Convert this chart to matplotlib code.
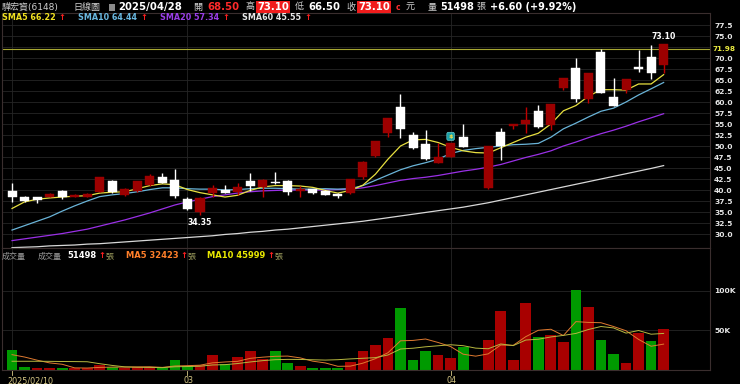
import numpy as np
import pandas as pd
import matplotlib
matplotlib.use("Agg")
import matplotlib.pyplot as plt
from matplotlib.patches import Rectangle

plt.rcParams['font.family'] = ['DejaVu Sans', 'Noto Sans CJK TC']

# =========================
# DATA
# =========================
days = pd.bdate_range("2025-02-10", "2025-04-28")
days = days.drop(pd.to_datetime(["2025-02-28", "2025-04-03", "2025-04-04"]))

nan = np.nan
opens = [39.8, 38.4, 38.3, 38.5, 39.8, 38.5, 38.5, 39.6, 42.1, 38.8,
         39.8, 41.1, 43.0, 42.3, 37.9, 35.1, 39.3, 40.0, 39.6, 42.1,
         40.75, 41.9, 42.1, 39.8, 40.2, 39.8, 39.0, 39.25, 42.9, 47.7,
         53.0, 58.9, 52.5, 50.4, 46.2, 47.6, 52.1, nan, 40.4, 53.25,
         54.6, 54.9, 57.95, 54.8, 63.1, 67.7, 60.7, 71.3, 61.2, 62.7,
         68.0, 70.3, 68.5]
highs = [41.5, 38.6, 38.4, 39.4, 40.0, 39.0, 39.3, 43.0, 42.2, 40.5,
         42.1, 43.6, 43.8, 44.7, 38.5, 38.5, 41.1, 41.1, 41.7, 43.9,
         42.4, 44.2, 42.2, 40.9, 40.3, 39.9, 39.3, 42.4, 46.5, 51.1,
         56.3, 61.75, 53.25, 53.6, 50.6, 50.6, 54.9, nan, 50.0, 54.0,
         55.0, 58.9, 59.3, 59.6, 65.5, 69.9, 66.5, 72.05, 65.4, 65.2,
         71.8, 72.95, 73.1]
lows = [37.2, 37.3, 37.1, 38.4, 37.9, 38.3, 38.4, 39.5, 39.25, 38.6,
        39.6, 41.0, 41.5, 38.1, 35.4, 34.35, 38.5, 39.3, 38.9, 39.8,
        38.5, 41.4, 38.9, 38.3, 39.2, 38.8, 38.2, 39.1, 42.4, 47.5,
        52.0, 51.75, 49.4, 46.8, 46.1, 47.5, 49.7, nan, 40.3, 46.8,
        53.9, 52.9, 54.2, 53.6, 62.7, 60.1, 59.7, 62.0, 59.2, 62.0,
        66.9, 65.2, 66.5]
closes = [38.5, 37.6, 37.7, 39.0, 38.3, 38.8, 39.2, 43.0, 39.6, 40.3,
          42.1, 43.2, 41.7, 38.6, 35.6, 38.2, 40.4, 39.4, 40.6, 40.9,
          42.3, 41.5, 39.6, 40.3, 39.3, 38.9, 38.6, 42.4, 46.4, 51.1,
          56.3, 53.8, 49.5, 47.0, 47.6, 50.6, 49.7, nan, 49.9, 50.1,
          54.9, 55.9, 54.25, 59.5, 65.5, 60.7, 66.5, 62.0, 59.2, 65.2,
          67.6, 66.5, 73.1]

sma5 = [35.8, 37.3, 37.9, 38.2, 38.4, 38.6, 38.7, 39.3, 39.5, 39.6,
        40.3, 41.0, 41.4, 41.2, 40.1, 39.4, 38.9, 38.4, 38.8, 39.9,
        40.7, 41.0, 41.0, 40.9, 40.6, 39.9, 39.3, 39.9, 41.1, 43.6,
        47.0, 50.0, 51.4, 51.5, 50.8, 49.7, 48.9, 48.5, 48.4, 49.6,
        50.8, 52.0, 52.9, 55.0, 58.0, 59.2, 61.3, 62.8, 62.8, 62.7,
        64.1, 64.1, 66.22]
sma10 = [30.9, 31.9, 32.9, 33.9, 35.2, 36.4, 37.5, 38.5, 38.9, 39.2,
         39.6, 40.1, 40.5, 40.5, 40.3, 40.2, 40.2, 40.0, 40.1, 40.3,
         40.4, 40.4, 40.3, 40.2, 40.2, 40.3, 40.2, 40.3, 41.0, 42.2,
         43.4, 44.6, 45.5, 46.2, 47.0, 48.3, 49.0, 49.4, 49.7, 50.0,
         50.3, 50.4, 50.6, 52.0, 53.9, 55.2, 56.6, 57.9, 58.6, 60.0,
         61.6, 63.0, 64.44]
sma20 = [28.5, 28.9, 29.3, 29.7, 30.1, 30.6, 31.1, 31.8, 32.5, 33.2,
         34.0, 34.8, 35.7, 36.6, 37.3, 37.9, 38.5, 38.9, 39.3, 39.6,
         39.8, 39.9, 40.0, 40.0, 40.0, 40.0, 40.1, 40.2, 40.5, 41.0,
         41.6, 42.2, 42.6, 42.9, 43.3, 43.8, 44.3, 44.7, 45.2, 45.8,
         46.6, 47.4, 48.1, 48.9, 50.0, 50.9, 51.9, 52.8, 53.6, 54.5,
         55.5, 56.4, 57.34]
sma60 = [26.9, 27.0, 27.1, 27.3, 27.4, 27.5, 27.7, 27.8, 28.0, 28.2,
         28.4, 28.6, 28.8, 29.0, 29.2, 29.4, 29.6, 29.9, 30.1, 30.4,
         30.6, 30.9, 31.1, 31.4, 31.7, 32.0, 32.3, 32.6, 32.9, 33.3,
         33.7, 34.1, 34.5, 34.9, 35.3, 35.7, 36.1, 36.6, 37.1, 37.7,
         38.3, 38.9, 39.5, 40.1, 40.7, 41.3, 41.9, 42.5, 43.1, 43.7,
         44.3, 44.9, 45.55]

# volume in thousand lots
volume = [25.4, 3.0, 2.0, 2.0, 2.0, 1.7, 2.0, 6.4, 3.8, 2.0,
          3.0, 3.0, 2.0, 12.3, 4.7, 6.0, 18.2, 7.2, 16.5, 23.7,
          13.6, 23.3, 8.9, 5.1, 2.5, 2.5, 2.1, 10.0, 24.0, 31.0,
          40.0, 78.0, 12.3, 23.3, 18.7, 14.4, 29.3, 0.0, 37.7, 75.0,
          12.3, 84.4, 41.0, 44.0, 35.0, 101.0, 80.0, 38.0, 20.0, 8.0,
          46.0, 36.5, 51.498]
vol_ma5 = [19.0, 16.0, 12.0, 8.5, 6.8, 2.2, 2.0, 2.8, 3.2, 3.2,
           3.4, 3.6, 2.8, 4.6, 5.0, 5.6, 8.6, 9.7, 10.5, 14.3,
           15.8, 16.9, 17.2, 14.9, 10.7, 8.5, 4.2, 4.4, 8.2, 13.9,
           21.4, 36.6, 37.1, 38.9, 34.5, 29.3, 19.6, 17.1, 20.0, 31.3,
           30.9, 41.9, 50.0, 51.3, 43.3, 61.0, 60.0, 59.6, 54.8, 49.4,
           38.4, 29.7, 32.423]
vol_ma10 = [10.6, 10.6, 10.6, 10.5, 10.3, 10.2, 10.0, 7.5, 5.3, 3.5,
            3.0, 2.8, 2.5, 3.6, 3.9, 4.3, 5.9, 6.3, 7.7, 9.7,
            11.4, 12.6, 13.0, 12.9, 12.5, 12.1, 12.6, 13.6, 14.4, 15.2,
            18.6, 26.2, 27.2, 29.0, 30.3, 31.6, 30.4, 27.3, 26.5, 32.6,
            30.5, 37.6, 38.6, 41.5, 43.5, 46.0, 51.0, 54.8, 53.0, 46.4,
            49.7, 45.0, 45.999]

ref_line = 71.98
tick_labels = ["2025/02/10", "03", "04"]

# =========================
# SETUP
# =========================
W, H = 740, 384
fig = plt.figure(figsize=(W / 100, H / 100), dpi=100, facecolor="black")

def px_axes(x0, y0, x1, y1):
    return fig.add_axes([x0 / W, 1 - y1 / H, (x1 - x0) / W, (y1 - y0) / H])

def ftxt(x, y, s, **kw):
    kw.setdefault("va", "center")
    kw.setdefault("ha", "left")
    fig.text(x / W, 1 - y / H, s, **kw)

x = np.arange(len(days))
o = np.array(opens); h = np.array(highs); l = np.array(lows); c = np.array(closes)
valid = ~np.isnan(c)

# month starts for x ticks
tick_pos = [0] + [i for i in range(1, len(days)) if days[i].month != days[i - 1].month]

DARKRED = "#9c0000"
BORDER = "#3a2e2e"
GRID = "#262626"

ax = px_axes(2, 13, 710, 248)
axv = px_axes(2, 248, 710, 370)

for a in (ax, axv):
    a.set_facecolor("black")
    for s in a.spines.values():
        s.set_color(BORDER)
        s.set_linewidth(0.8)
    a.set_xlim(-0.8, 55.7)
    for tp in tick_pos:
        a.axvline(tp, color=GRID, lw=0.6, zorder=0)

# =========================
# PRICE PANEL
# =========================
ax.set_ylim(26.82, 80.23)
grid_levels = np.arange(30, 78, 2.5)
for g in grid_levels:
    ax.axhline(g, color=GRID, lw=0.6, zorder=0)
price_ticks = [t for t in grid_levels if abs(t - ref_line) > 1]
ax.set_yticks(price_ticks)
ax.set_yticklabels([f"{t:.1f}" for t in price_ticks])
ax.yaxis.tick_right()
ax.tick_params(axis="y", length=0, pad=3, labelsize=5.4, labelcolor="#e6e6e6")
for t in ax.get_yticklabels():
    t.set_fontweight("bold")
ax.set_xticks([])

ax.axhline(ref_line, color="#a8a832", lw=0.8, zorder=1)
ax.text(1.004, ref_line, f"{ref_line:.2f}", transform=ax.get_yaxis_transform(),
        color="#e8e840", fontsize=5.2, fontweight="bold", va="center", ha="left")

ax.plot(x, sma60, color="#d8d8d8", lw=0.9, zorder=2)
ax.plot(x, sma20, color="#9a30e6", lw=0.9, zorder=2)
ax.plot(x, sma10, color="#6ab4d8", lw=0.9, zorder=2)
ax.plot(x, sma5, color="#e8e040", lw=0.9, zorder=2)

bw = 0.72
for i in x[valid]:
    up = c[i] >= o[i]
    col = DARKRED if up else "white"
    wick = "#c00000" if up else "white"
    ax.vlines(i, l[i], h[i], color=wick, lw=1.0, zorder=3)
    lo_b = min(o[i], c[i])
    hgt = max(abs(c[i] - o[i]), 0.12)
    ax.add_patch(Rectangle((i - bw / 2, lo_b), bw, hgt, facecolor=col,
                           edgecolor=col, lw=0.3, zorder=4))

i_max = int(np.nanargmax(h)); i_min = int(np.nanargmin(l))
ax.text(i_max, h[i_max] + 0.7, f"{h[i_max]:.2f}", color="white", fontsize=5.6,
        fontweight="bold", ha="center", va="bottom")
ax.text(i_min, l[i_min] - 0.6, f"{l[i_min]:.2f}", color="white", fontsize=5.6,
        fontweight="bold", ha="center", va="top")

# dividend marker
ax.text(35, 52.2, "$", color="#ffe040", fontsize=4.6, fontweight="bold", ha="center",
        va="center", zorder=6,
        bbox=dict(boxstyle="round,pad=0.25", facecolor="#1aa0a8", edgecolor="#7fe0e0", lw=0.4))

# =========================
# VOLUME PANEL
# =========================
vol = np.array(volume)
prev = pd.Series(c).ffill().shift(1).values
vol_up = np.where(np.isnan(prev), False, c >= prev)
vcol = np.where(vol_up, "#a80000", "#009a00")
axv.bar(x, vol, width=0.86, color=vcol, zorder=2)
axv.plot(x, vol_ma5, color="#e07a30", lw=0.7, zorder=3)
axv.plot(x, vol_ma10, color="#b8b840", lw=0.7, zorder=3)
axv.set_ylim(-0.5, 154.6)
vticks = [50, 100]
for g in vticks:
    axv.axhline(g, color=GRID, lw=0.6, zorder=0)
axv.set_yticks(vticks)
axv.set_yticklabels([f"{v}K" for v in vticks])
axv.yaxis.tick_right()
axv.tick_params(axis="y", length=0, pad=3, labelsize=5.4, labelcolor="#e6e6e6")
for t in axv.get_yticklabels():
    t.set_fontweight("bold")
axv.set_xticks([])
for tp, lab in zip(tick_pos, tick_labels):
    axv.text(tp - 0.35, -0.09, lab, transform=axv.get_xaxis_transform(),
             color="#d6c886", fontsize=5.8, ha="left", va="center")
    axv.plot([tp, tp], [0, -0.04], transform=axv.get_xaxis_transform(),
             color="#d6c886", lw=0.6, clip_on=False)

# =========================
# HEADER TEXTS
# =========================
GRAY = "#cfcfcf"
y1 = 7
ftxt(2, y1, "驊宏資(6148)", color=GRAY, fontsize=6.5)
ftxt(73, y1, "日線圖", color=GRAY, fontsize=6.5)
fig.patches.append(Rectangle((109 / W, 1 - 11 / H), 6 / W, 7 / H, transform=fig.transFigure,
                             facecolor="#8a8a8a", edgecolor="none"))
ftxt(118, y1, "2025/04/28", color="white", fontsize=7.3, fontweight="bold")
ftxt(193, y1, "開", color=GRAY, fontsize=6.5)
ftxt(207, y1, f"{o[-1]:.2f}", color="#ff2a2a", fontsize=7.3, fontweight="bold")
ftxt(245, y1, "高", color=GRAY, fontsize=6.5)
ftxt(257, y1, f"{h[-1]:.2f}", color="white", fontsize=7.3, fontweight="bold",
     bbox=dict(facecolor="#f01c1c", edgecolor="none", pad=0.6))
ftxt(295, y1, "低", color=GRAY, fontsize=6.5)
ftxt(308, y1, f"{l[-1]:.2f}", color="white", fontsize=7.3, fontweight="bold")
ftxt(346, y1, "收", color=GRAY, fontsize=6.5)
ftxt(358, y1, f"{c[-1]:.2f}", color="white", fontsize=7.3, fontweight="bold",
     bbox=dict(facecolor="#f01c1c", edgecolor="none", pad=0.6))
ftxt(396, y1 + 0.5, "c", color="#ff3030", fontsize=5.5, fontweight="bold")
ftxt(406, y1, "元", color=GRAY, fontsize=6.5)
ftxt(428, y1, "量", color=GRAY, fontsize=6.5)
ftxt(440, y1, f"{volume[-1] * 1000:.0f}", color="white", fontsize=7.0, fontweight="bold")
ftxt(476, y1, "張", color=GRAY, fontsize=6.5)
chg = c[-1] - c[-2]
ftxt(490, y1, f"+{chg:.2f} (+{chg / c[-2] * 100:.2f}%)", color="white", fontsize=7.0,
     fontweight="bold")

y2 = 17.5
legend = [(2, f"SMA5 {sma5[-1]:.2f}", "#f0e020"),
          (78, f"SMA10 {sma10[-1]:.2f}", "#6ab8e0"),
          (160, f"SMA20 {sma20[-1]:.2f}", "#9a3ee8"),
          (242, f"SMA60 {sma60[-1]:.2f}", "#e8e8e8")]
for lx, s, col in legend:
    t = fig.text(lx / W, 1 - y2 / H, s, color=col, fontsize=5.8, fontweight="bold",
                 va="center", ha="left")
    ext = t.get_window_extent(renderer=fig.canvas.get_renderer())
    fig.text((ext.x1 + 3) / W, 1 - y2 / H, "↑", color="#ff2020", fontsize=6,
             fontweight="bold", va="center", ha="left")

y3 = 256
ftxt(2, y3, "成交量", color="#9a9a9a", fontsize=5.8)
ftxt(38, y3, "成交量", color="#9a9a9a", fontsize=5.8)
vleg = [(67, f"{volume[-1] * 1000:.0f}", "white"),
        (126, f"MA5 {vol_ma5[-1] * 1000:.0f}", "#ff7f2a"),
        (207, f"MA10 {vol_ma10[-1] * 1000:.0f}", "#e8e800")]
for lx, s, col in vleg:
    t = fig.text(lx / W, 1 - y3 / H, s, color=col, fontsize=6.0, fontweight="bold",
                 va="center", ha="left")
    ext = t.get_window_extent(renderer=fig.canvas.get_renderer())
    fig.text((ext.x1 + 2) / W, 1 - y3 / H, "↑", color="#ff2020", fontsize=6,
             fontweight="bold", va="center", ha="left")
    fig.text((ext.x1 + 9) / W, 1 - y3 / H, "張", color="#a0a060", fontsize=5.8,
             va="center", ha="left")

fig.savefig("out.png", dpi=100, facecolor="black")
